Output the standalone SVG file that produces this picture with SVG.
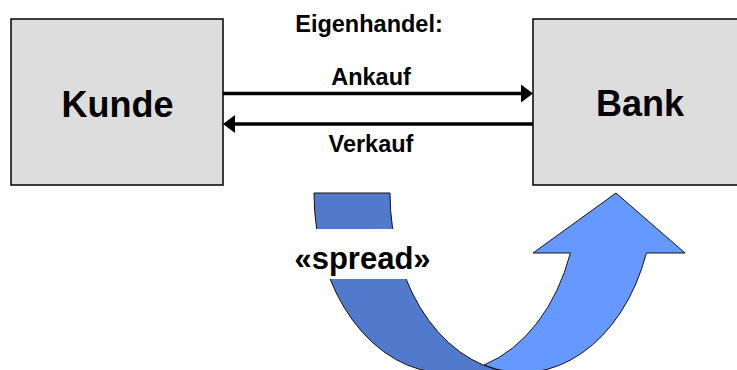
<svg xmlns="http://www.w3.org/2000/svg" width="737" height="370" viewBox="0 0 737 370">
  <style>
    .box { fill: #DDDDDD; stroke: #000000; stroke-width: 1.5; }
    .big { font-family: "Liberation Sans", Arial, sans-serif; font-weight: bold; font-size: 36px; fill: #000000; text-anchor: middle; }
    .lbl { font-family: "Liberation Sans", Arial, sans-serif; font-weight: bold; font-size: 23.5px; fill: #000000; text-anchor: middle; }
    .spr { font-family: "Liberation Sans", Arial, sans-serif; font-weight: bold; font-size: 31px; fill: #000000; text-anchor: middle; }
    .line { stroke: #000000; stroke-width: 3.5; fill: none; }
    .head { fill: #000000; }
    .band { stroke: #111111; stroke-width: 1; stroke-linejoin: miter; }
  </style>
  <rect width="737" height="370" fill="#FFFFFF"/>

  <g id="kunde">
    <rect class="box" x="11" y="19" width="212" height="166"/>
    <text class="big" x="117.5" y="117">Kunde</text>
  </g>

  <g id="bank">
    <rect class="box" x="533" y="19" width="220" height="166"/>
    <text class="big" x="640" y="116">Bank</text>
  </g>

  <g id="title">
    <text class="lbl" x="369" y="32">Eigenhandel:</text>
  </g>

  <g id="connectors">
    <g id="ankauf">
      <line class="line" x1="223" y1="93.5" x2="523" y2="93.5"/>
      <polygon class="head" points="533,93.5 521,84.5 521,102.5"/>
      <text class="lbl" x="371" y="85">Ankauf</text>
    </g>
    <g id="verkauf">
      <line class="line" x1="233" y1="124" x2="533" y2="124"/>
      <polygon class="head" points="223,124 235,115 235,133"/>
      <text class="lbl" x="371" y="152">Verkauf</text>
    </g>
  </g>

  <g id="spread-arrow">
    <path class="band" fill="#6699FF" d="M616,193 L685,253 L646.4,253 A132,180 0 0 1 484,365 A132,180 0 0 0 570.4,253 L533,253 Z"/>
    <path class="band" fill="#527ACC" d="M314,193 A132,180 0 0 0 446,373 L522,373 A132,180 0 0 1 390,193 Z"/>
  </g>

  <g id="spread-label">
    <rect x="290" y="229" width="148" height="50" fill="#FFFFFF"/>
    <text class="spr" x="362.5" y="269">«spread»</text>
  </g>
</svg>
